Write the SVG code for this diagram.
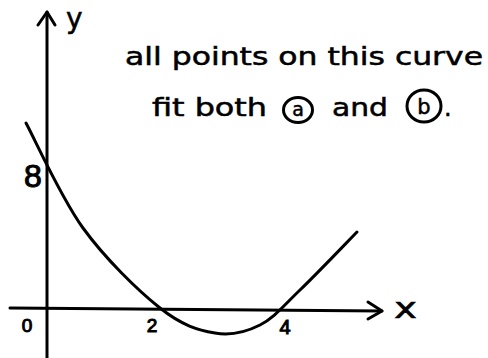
<svg xmlns="http://www.w3.org/2000/svg" width="488" height="358" viewBox="0 0 488 358">
<style>
.ln{fill:none;stroke:#000;stroke-width:3;stroke-linecap:round;stroke-linejoin:round}
.t{font-family:"DejaVu Sans","Liberation Sans",sans-serif;fill:#000;stroke:#000;stroke-width:0.5}
.d{font-family:"Liberation Sans","DejaVu Sans",sans-serif;fill:#000;stroke:#000;stroke-width:1}
</style>
<rect width="488" height="358" fill="#fff"/>
<g id="axes">
<path class="ln" d="M47,12 L47,358"/>
<path class="ln" d="M38,25 L47,12 L55,25"/>
<path class="ln" d="M10,308 L382,311"/>
<path class="ln" d="M368,302 L382,311 L368,319"/>
</g>
<g id="curve">
<path class="ln" d="M26,123 C35.5,140.5 60.7,197.2 83,228 C105.3,258.8 138,290.5 160,308 C182,325.5 198.3,330.2 215,333 C231.7,335.8 245.8,332.2 260,325 C274.2,317.8 283.8,305.5 300,290 C316.2,274.5 347.5,241.7 357,232"/>
</g>
<g id="labels">
<text class="t" x="66" y="28" font-size="28">y</text>
<text class="t" x="394" y="318" font-size="28" textLength="23" lengthAdjust="spacingAndGlyphs">x</text>
<text class="d" x="27" y="332" font-size="19" text-anchor="middle">0</text>
<text class="d" x="152" y="332" font-size="19" text-anchor="middle">2</text>
<text class="d" x="285" y="334" font-size="20" text-anchor="middle">4</text>
<text class="d" x="33" y="187" font-size="32" text-anchor="middle">8</text>
</g>
<g id="note">
<text class="t" x="125" y="65" font-size="24" textLength="358" lengthAdjust="spacingAndGlyphs">all points on this curve</text>
<text class="t" x="152" y="116" font-size="24" textLength="115" lengthAdjust="spacingAndGlyphs">fit both</text>
<ellipse cx="298" cy="110" rx="14.5" ry="12.5" fill="none" stroke="#000" stroke-width="3"/>
<text class="t" x="298" y="116" font-size="19" text-anchor="middle">a</text>
<text class="t" x="332" y="116" font-size="24" textLength="56" lengthAdjust="spacingAndGlyphs">and</text>
<ellipse cx="424" cy="106" rx="17" ry="16" fill="none" stroke="#000" stroke-width="3"/>
<text class="t" x="424" y="114" font-size="21" text-anchor="middle">b</text>
<text class="t" x="444" y="116" font-size="24">.</text>
</g>
</svg>
